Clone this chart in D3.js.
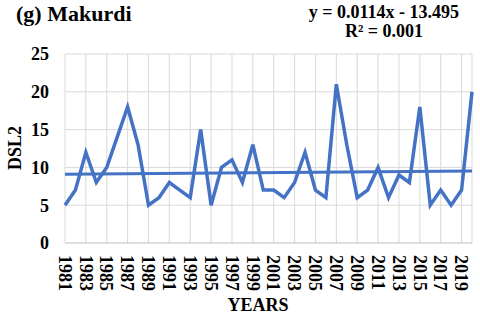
<!DOCTYPE html>
<html>
<head>
<meta charset="utf-8">
<script src="https://cdn.jsdelivr.net/npm/d3@7"></script>
</head>
<body style="margin:0; background:#fff">
<svg id="chart" width="480" height="319" style="font-family: 'Liberation Serif', 'Times New Roman', serif; font-weight: bold"></svg>
<script>
var serifFont = '"Liberation Serif", "Times New Roman", serif';

// data
var years = d3.range(1981, 2021);
var dsl2 = [5, 7, 12, 8, 10, 14, 18, 13, 5, 6,
            8, 7, 6, 15, 5, 10, 11, 8, 13, 7,
            7, 6, 8, 12, 7, 6, 21, 13, 6, 7,
            10, 6, 9, 8, 18, 5, 7, 5, 7, 20];
var yTicks = [0, 5, 10, 15, 20, 25];
var trendSlope = 0.0114;
var trendIntercept = -13.495;
var equationLines = ["y = 0.0114x - 13.495", "R² = 0.001"];

var svg = d3.select('#chart');

var xScale = d3.scalePoint().domain(years).range([65, 472]);
var yScale = d3.scaleLinear().domain([0, 25]).range([243, 54]);

var labelYears = years.filter(function(d, i) { return i % 2 == 0; });

// gridlines
svg.append("g").selectAll("line")
  .data(yTicks.slice(1))
  .enter().append("line")
    .attr("x1", 65).attr("x2", 472)
    .attr("y1", function(d) { return yScale(d); })
    .attr("y2", function(d) { return yScale(d); })
    .style("stroke", "#d9d9d9").style("stroke-width", 1);

svg.append("g").selectAll("line")
  .data(labelYears.concat([years[years.length - 1]]))
  .enter().append("line")
    .attr("x1", function(d) { return xScale(d); })
    .attr("x2", function(d) { return xScale(d); })
    .attr("y1", yScale(25)).attr("y2", yScale(0))
    .style("stroke", "#d9d9d9").style("stroke-width", 1);

// x axis line
svg.append("line")
  .attr("x1", 65).attr("x2", 472)
  .attr("y1", yScale(0)).attr("y2", yScale(0))
  .style("stroke", "#bfbfbf").style("stroke-width", 1);

// y tick labels
svg.append("g").selectAll("text")
  .data(yTicks)
  .enter().append("text")
    .attr("x", 49)
    .attr("y", function(d) { return yScale(d); })
    .attr("dy", "0.35em")
    .attr("text-anchor", "end")
    .style("font-family", serifFont).style("font-weight", "bold")
    .style("font-size", "18px")
    .text(function(d) { return d; });

// x tick labels, rotated
svg.append("g").selectAll("text")
  .data(labelYears)
  .enter().append("text")
    .attr("transform", function(d) { return "translate(" + xScale(d) + ",255)rotate(90)"; })
    .attr("dy", "0.35em")
    .attr("text-anchor", "start")
    .style("font-family", serifFont).style("font-weight", "bold")
    .style("font-size", "18px")
    .text(function(d) { return d; });

// data line
var line = d3.line()
  .x(function(d, i) { return xScale(years[i]); })
  .y(function(d) { return yScale(d); });

svg.append("path")
  .datum(dsl2)
  .attr("d", line)
  .style("fill", "none")
  .style("stroke", "#4472C4")
  .style("stroke-width", 3.5);

// linear trendline
var trendYears = [years[0], years[years.length - 1]];
svg.append("path")
  .datum(trendYears)
  .attr("d", d3.line()
    .x(function(d) { return xScale(d); })
    .y(function(d) { return yScale(trendSlope * d + trendIntercept); }))
  .style("fill", "none")
  .style("stroke", "#4472C4")
  .style("stroke-width", 3);

// titles
svg.append("text")
  .attr("x", 16).attr("y", 21)
  .style("font-family", serifFont).style("font-weight", "bold")
  .style("font-size", "22px")
  .text("(g) Makurdi");

svg.append("g").selectAll("text")
  .data(equationLines)
  .enter().append("text")
    .attr("x", 384)
    .attr("y", function(d, i) { return 18 + i * 19; })
    .attr("text-anchor", "middle")
    .style("font-family", serifFont).style("font-weight", "bold")
    .style("font-size", "18px")
    .text(function(d) { return d; });

svg.append("text")
  .attr("transform", "translate(21,148)rotate(-90)")
  .attr("text-anchor", "middle")
  .style("font-family", serifFont).style("font-weight", "bold")
  .style("font-size", "18px")
  .text("DSL2");

svg.append("text")
  .attr("x", 258).attr("y", 311)
  .attr("text-anchor", "middle")
  .style("font-family", serifFont).style("font-weight", "bold")
  .style("font-size", "18px")
  .text("YEARS");
</script>
</body>
</html>
